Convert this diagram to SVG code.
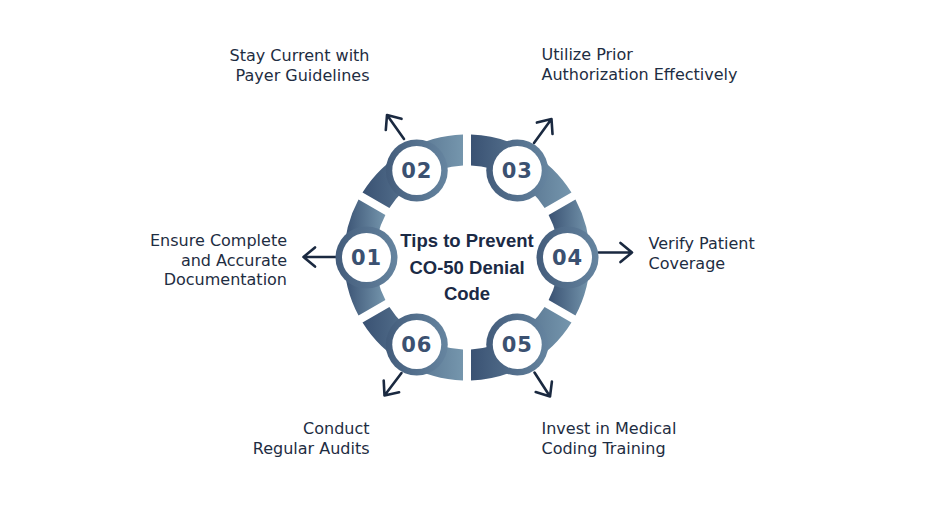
<svg xmlns="http://www.w3.org/2000/svg" width="942" height="521" viewBox="0 0 942 521">
<defs>
<linearGradient id="seg" x1="0" y1="0" x2="1" y2="0"><stop offset="0" stop-color="#3a5273"/><stop offset="1" stop-color="#7596ad"/></linearGradient>
<linearGradient id="ring" x1="0" y1="0" x2="1" y2="0"><stop offset="0" stop-color="#435c7b"/><stop offset="1" stop-color="#6685a0"/></linearGradient>
</defs>
<style>
.seg{fill:url(#seg)}
.ring{fill:url(#ring)}
.in{fill:#ffffff}
.num{font-family:"DejaVu Sans",sans-serif;font-weight:bold;font-size:21px;fill:#3b5171;text-anchor:middle;letter-spacing:1px}
.lab{font-family:"DejaVu Sans",sans-serif;font-size:16px;fill:#1e2d42}
.r{text-anchor:end}
.title{font-family:"Liberation Sans",Arial,sans-serif;font-weight:bold;font-size:18.5px;fill:#1b2a45;text-anchor:middle}
.arr{fill:none;stroke:#1a2940;stroke-width:2.6;stroke-linecap:round;stroke-linejoin:round}
</style>
<rect width="942" height="521" fill="#ffffff"/>
<g id="ring-segments">
<path class="seg" d="M575.47,199.49 A123,123 0 0 1 575.47,315.51 L548.6,300 A92,92 0 0 0 548.6,215 Z"/>
<path class="seg" d="M571.47,322.43 A123,123 0 0 1 471,380.43 L471,349.41 A92,92 0 0 0 544.6,306.92 Z"/>
<path class="seg" d="M463,380.43 A123,123 0 0 1 362.53,322.43 L389.4,306.92 A92,92 0 0 0 463,349.41 Z"/>
<path class="seg" d="M358.53,315.51 A123,123 0 0 1 358.53,199.49 L385.4,215 A92,92 0 0 0 385.4,300 Z"/>
<path class="seg" d="M362.53,192.57 A123,123 0 0 1 463,134.57 L463,165.59 A92,92 0 0 0 389.4,208.08 Z"/>
<path class="seg" d="M471,134.57 A123,123 0 0 1 571.47,192.57 L544.6,208.08 A92,92 0 0 0 471,165.59 Z"/>
</g>
<g id="connectors">
<path class="arr" d="M335.5,257 L303.5,257 M315,247.4 L303.5,257 L315,266.6"/>
<path class="arr" d="M404,139 L387,115 M385.8,130 L387,115 L401.5,118.8"/>
<path class="arr" d="M534,143 L551.5,119 M536.9,122.6 L551.5,119 L552.5,134"/>
<path class="arr" d="M598.5,252.5 L632,252.5 M620.5,242.9 L632,252.5 L620.5,262.1"/>
<path class="arr" d="M534.5,372.5 L550,396.5 M551.9,381.6 L550,396.5 L535.7,392.1"/>
<path class="arr" d="M401.5,373 L384.5,395.5 M399.1,392.2 L384.5,395.5 L383.7,380.5"/>
</g>
<g id="node-01"><circle class="ring" cx="366.5" cy="257.5" r="31"/><circle class="in" cx="366.5" cy="257.5" r="24.5"/><text class="num" x="366.5" y="265">01</text></g>
<g id="node-02"><circle class="ring" cx="416.75" cy="170.5" r="31"/><circle class="in" cx="416.75" cy="170.5" r="24.5"/><text class="num" x="416.75" y="178">02</text></g>
<g id="node-03"><circle class="ring" cx="517.25" cy="170.5" r="31"/><circle class="in" cx="517.25" cy="170.5" r="24.5"/><text class="num" x="517.25" y="178">03</text></g>
<g id="node-04"><circle class="ring" cx="567.5" cy="257.5" r="31"/><circle class="in" cx="567.5" cy="257.5" r="24.5"/><text class="num" x="567.5" y="265">04</text></g>
<g id="node-05"><circle class="ring" cx="517.25" cy="344.5" r="31"/><circle class="in" cx="517.25" cy="344.5" r="24.5"/><text class="num" x="517.25" y="352">05</text></g>
<g id="node-06"><circle class="ring" cx="416.75" cy="344.5" r="31"/><circle class="in" cx="416.75" cy="344.5" r="24.5"/><text class="num" x="416.75" y="352">06</text></g>
<g id="center-title">
<text class="title" x="467" y="247">Tips to Prevent</text>
<text class="title" x="467" y="273.5">CO-50 Denial</text>
<text class="title" x="467" y="299.5">Code</text>
</g>
<g id="label-01"><text class="lab r" x="287" y="246">Ensure Complete</text><text class="lab r" x="287" y="265.5">and Accurate</text><text class="lab r" x="287" y="285">Documentation</text></g>
<g id="label-02"><text class="lab r" x="369.5" y="60.5">Stay Current with</text><text class="lab r" x="369.5" y="80.5">Payer Guidelines</text></g>
<g id="label-03"><text class="lab" x="541.5" y="60">Utilize Prior</text><text class="lab" x="541.5" y="80">Authorization Effectively</text></g>
<g id="label-04"><text class="lab" x="648.5" y="249">Verify Patient</text><text class="lab" x="648.5" y="268.5">Coverage</text></g>
<g id="label-05"><text class="lab" x="541.5" y="433.5">Invest in Medical</text><text class="lab" x="541.5" y="453.5">Coding Training</text></g>
<g id="label-06"><text class="lab r" x="369.5" y="433.5">Conduct</text><text class="lab r" x="369.5" y="453.5">Regular Audits</text></g>
</svg>
